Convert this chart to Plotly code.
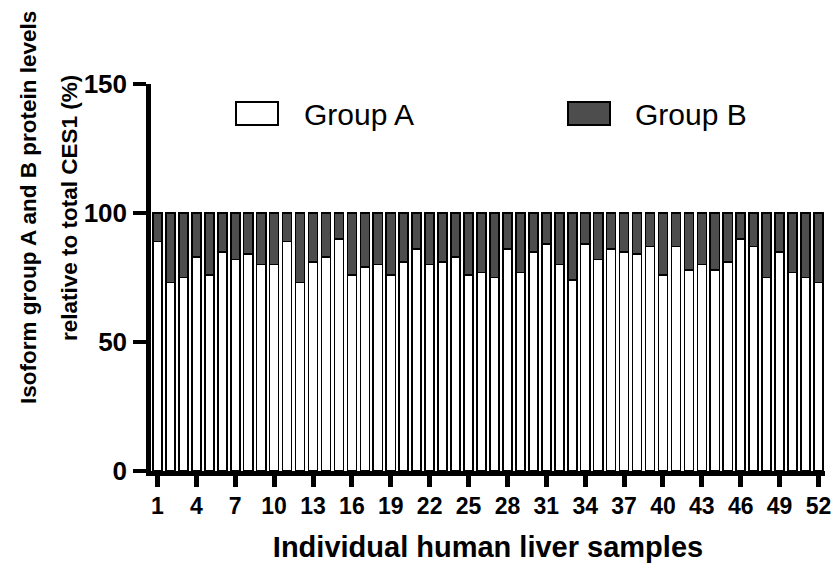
import plotly.graph_objects as go

samples = list(range(1, 53))
group_a = [89, 73, 75, 83, 76, 85, 82, 84, 80, 80,
           89, 73, 81, 83, 90, 76, 79, 80, 76, 81,
           86, 80, 81, 83, 76, 77, 75, 86, 77, 85,
           88, 80, 74, 88, 82, 86, 85, 84, 87, 76,
           87, 78, 80, 78, 81, 90, 87, 75, 85, 77,
           75, 73]
group_b = [11, 27, 25, 17, 24, 15, 18, 16, 20, 20,
           11, 27, 19, 17, 10, 24, 21, 20, 24, 19,
           14, 20, 19, 17, 24, 23, 25, 14, 23, 15,
           12, 20, 26, 12, 18, 14, 15, 16, 13, 24,
           13, 22, 20, 22, 19, 10, 13, 25, 15, 23,
           25, 27]
x_ticks = list(range(1, 53, 3))
y_ticks = [0, 50, 100, 150]
series_names = ["Group A", "Group B"]
series_colors = ["#ffffff", "#4d4d4d"]
y_title_lines = ["Isoform group A and B protein levels", "relative to total CES1 (%)"]
x_title = "Individual human liver samples"

FONT = "Liberation Sans, Arial, Helvetica, sans-serif"

fig = go.Figure()
for name, vals, col in zip(series_names, [group_a, group_b], series_colors):
    fig.add_trace(go.Bar(
        x=samples, y=vals, name=name,
        marker=dict(color=col, line=dict(color="#000000", width=1.6)),
        showlegend=False, hoverinfo="skip",
    ))

W, H = 835, 568
L, R, T, B = 151, 10, 84, 97
pw = W - L - R
ph = H - T - B

def px_x(p):
    return (p - L) / pw

def px_y(p):
    return (H - B - p) / ph

fig.update_layout(
    width=W, height=H,
    margin=dict(l=L, r=R, t=T, b=B, pad=0),
    barmode="stack", bargap=0.3,
    plot_bgcolor="white", paper_bgcolor="white",
    font=dict(family=FONT, color="#000000"),
    xaxis=dict(
        range=[0.5, 52.5], tickvals=x_ticks, ticktext=[str(v) for v in x_ticks],
        ticks="outside", ticklen=11, tickwidth=5, tickcolor="#000",
        showline=True, linewidth=4.5, linecolor="#000", showgrid=False, zeroline=False,
        automargin=False,
        tickfont=dict(family=FONT, size=23, color="#000", weight="bold"),
        title=dict(text=x_title, font=dict(family=FONT, size=29, color="#000", weight="bold"),
                   standoff=20),
    ),
    yaxis=dict(
        range=[0, 150], tickvals=y_ticks,
        ticks="outside", ticklen=13, tickwidth=3.5, tickcolor="#000",
        showline=True, linewidth=4.5, linecolor="#000", showgrid=False, zeroline=False,
        automargin=False,
        tickfont=dict(family=FONT, size=26, color="#000", weight="bold"),
        ticklabelstandoff=1,
    ),
)

# y-axis title as two lines
for txt, cx in zip(y_title_lines, [28, 69]):
    fig.add_annotation(
        x=px_x(cx), y=px_y(208), xref="paper", yref="paper",
        text=txt, textangle=-90, showarrow=False, xanchor="center", yanchor="middle",
        font=dict(family=FONT, size=22.5, color="#000", weight="bold"),
    )

# legend drawn as boxes + labels
legend_boxes = [(236, 278), (568, 610)]
legend_text_x = [302, 633]
for (bx0, bx1), tx, name, col in zip(legend_boxes, legend_text_x, series_names, series_colors):
    fig.add_shape(type="rect", xref="paper", yref="paper",
                  x0=px_x(bx0), x1=px_x(bx1), y0=px_y(125), y1=px_y(102),
                  fillcolor=col, line=dict(color="#000", width=2))
    fig.add_annotation(x=px_x(tx), y=px_y(114), xref="paper", yref="paper",
                       text=name, showarrow=False, xanchor="left", yanchor="middle",
                       font=dict(family=FONT, size=30, color="#000"))

fig.write_html("out.html", config={"displayModeBar": False},
               post_script="document.body.style.margin='0';")
